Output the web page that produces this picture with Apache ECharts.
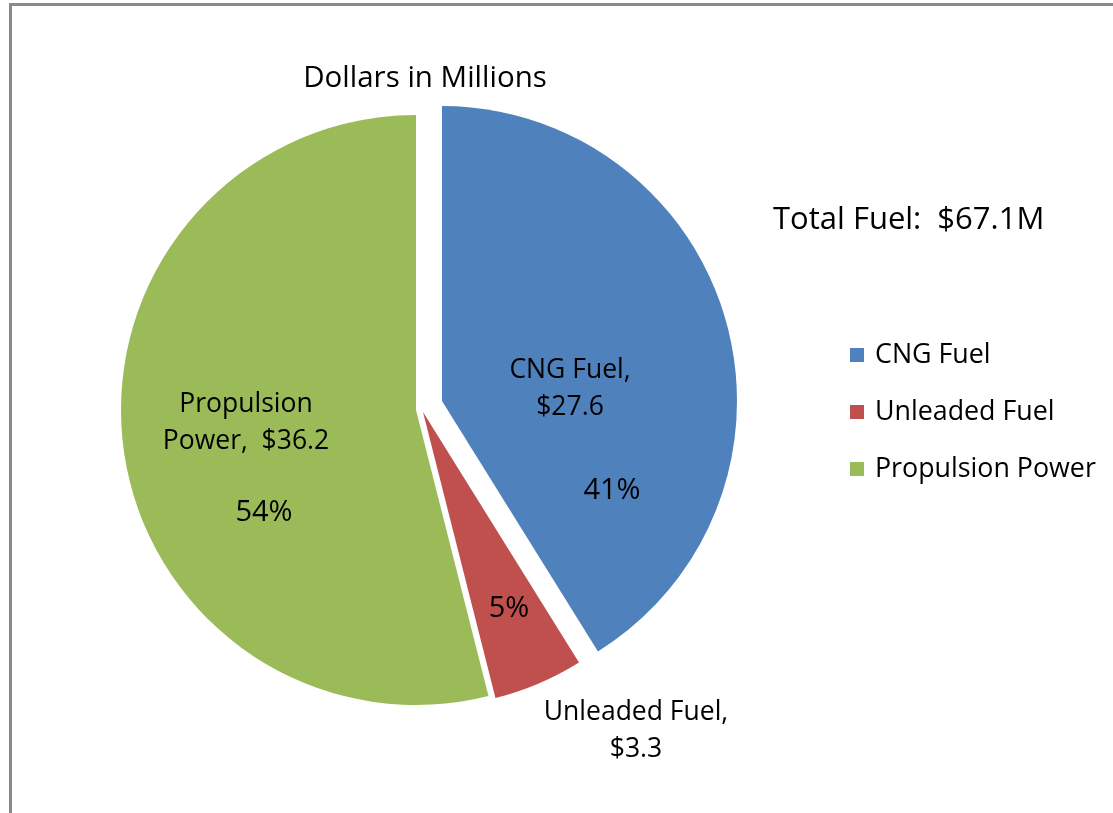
<!DOCTYPE html>
<html>
<head>
<meta charset="utf-8">
<script src="https://cdn.jsdelivr.net/npm/echarts@6/dist/echarts.min.js"></script>
<style>
  html, body { margin: 0; padding: 0; background: #fff; }
  #frame { position: absolute; left: 9px; top: 3px; width: 1200px; height: 900px;
           border-left: 3px solid #8a8a8a; border-top: 3px solid #8a8a8a; box-sizing: border-box; }
  #chart { position: absolute; left: 0; top: 0; width: 1113px; height: 813px; }
</style>
</head>
<body>
<div id="frame"></div>
<div id="chart"></div>
<script>
// ---- data ----
const categories = ['CNG Fuel', 'Unleaded Fuel', 'Propulsion Power'];
const values = [27.6, 3.3, 36.2];
const labelHeads = ['CNG Fuel,\n', 'Unleaded Fuel,\n', 'Propulsion\nPower,  '];
const titleText = 'Dollars in Millions';
const totalPrefix = 'Total Fuel:  $';

// ---- style / layout ----
const colors = ['#4F81BD', '#C0504D', '#9BBB59'];
const FONT = 'Open Sans';
const R = 295;
const sliceCenters = [[442, 401], [423, 412], [416, 410]];
const namePos = [[570, 389], [636, 731], [246, 423]];
const pctPos = [[612, 491], [509, 609], [264, 513]];

const total = values.reduce((a, b) => a + b, 0);

function baseData(showIdx, colored) {
  return values.map((v, i) => ({
    name: categories[i],
    value: v,
    itemStyle: { color: (colored && i === showIdx) ? colors[i] : 'rgba(0,0,0,0)', borderWidth: 0 },
    label: { show: showIdx === -1 }
  }));
}

const series = [];
// one series per exploded slice
values.forEach((v, k) => {
  series.push({
    type: 'pie',
    center: sliceCenters[k],
    radius: [0, R],
    startAngle: 90,
    clockwise: true,
    silent: true,
    animation: false,
    label: { show: false },
    labelLine: { show: false },
    emphasis: { disabled: true },
    data: baseData(k, true)
  });
});
// name/value labels
series.push({
  type: 'pie', center: sliceCenters[1], radius: [0, R], startAngle: 90, clockwise: true,
  silent: true, animation: false, emphasis: { disabled: true },
  labelLine: { show: false },
  label: {
    show: true, position: 'inside', color: '#000', fontFamily: FONT, fontSize: 26.5, lineHeight: 37,
    formatter: p => labelHeads[p.dataIndex] + '$' + values[p.dataIndex].toFixed(1)
  },
  labelLayout: p => ({ x: namePos[p.dataIndex][0], y: namePos[p.dataIndex][1], align: 'center', verticalAlign: 'middle' }),
  data: baseData(-1, false)
});
// percentage labels
series.push({
  type: 'pie', center: sliceCenters[1], radius: [0, R], startAngle: 90, clockwise: true,
  silent: true, animation: false, emphasis: { disabled: true }, percentPrecision: 0,
  labelLine: { show: false },
  label: {
    show: true, position: 'inside', color: '#000', fontFamily: FONT, fontSize: 29,
    formatter: '{d}%'
  },
  labelLayout: p => ({ x: pctPos[p.dataIndex][0], y: pctPos[p.dataIndex][1], align: 'center', verticalAlign: 'middle' }),
  data: baseData(-1, false)
});

const chart = echarts.init(document.getElementById('chart'), null, { renderer: 'canvas' });
chart.setOption({
  backgroundColor: 'transparent',
  animation: false,
  title: [
    { text: titleText, left: 420, top: 59, textAlign: 'center',
      textStyle: { fontFamily: FONT, fontSize: 29.5, fontWeight: 'normal', color: '#000' } },
    { text: totalPrefix + total.toFixed(1) + 'M', left: 768, top: 200,
      textStyle: { fontFamily: FONT, fontSize: 31, fontWeight: 'normal', color: '#000' } }
  ],
  legend: {
    orient: 'vertical', left: 845, top: 335, itemGap: 27,
    itemWidth: 14, itemHeight: 14, icon: 'rect',
    selectedMode: false,
    textStyle: { fontFamily: FONT, fontSize: 26.8, color: '#000', lineHeight: 30, padding: [0, 0, 0, 6] },
    data: categories.map((c, i) => ({ name: c, itemStyle: { color: colors[i] } }))
  },
  series: series
});
</script>
</body>
</html>
